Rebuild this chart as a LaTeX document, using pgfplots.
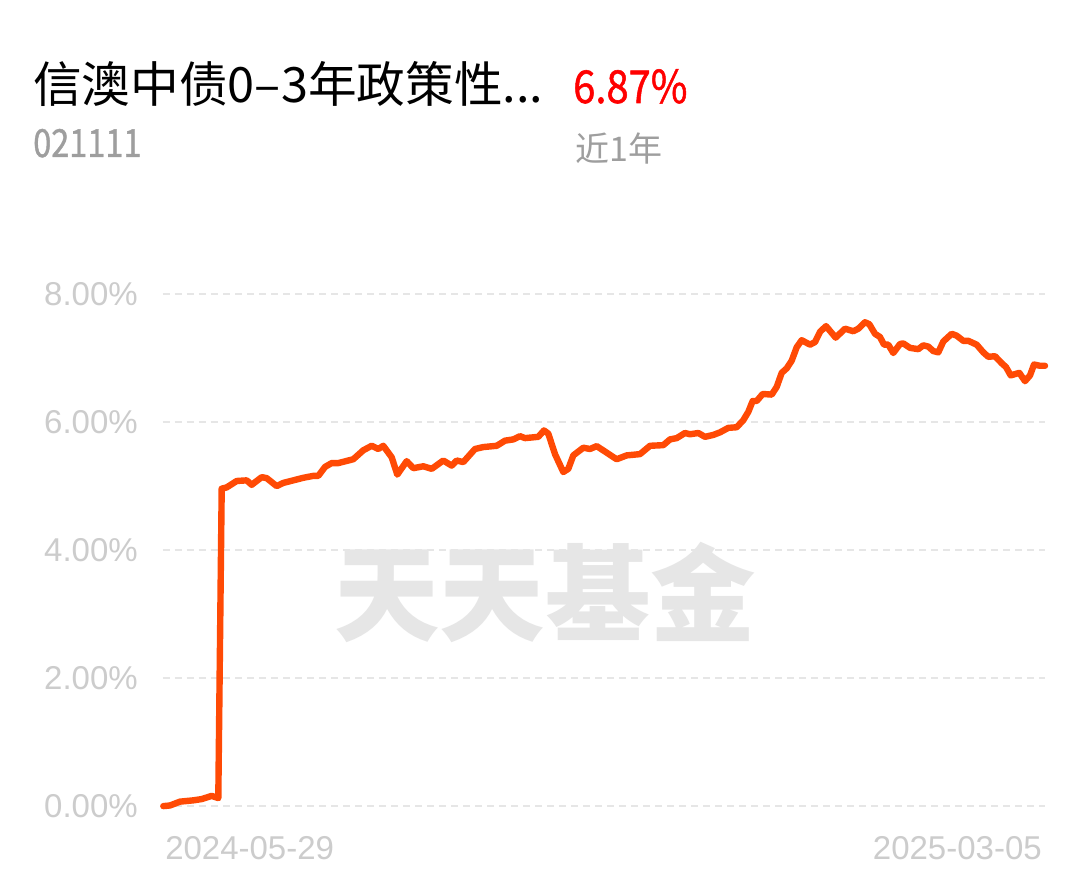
\documentclass[border=0pt]{standalone}
\usepackage{pgfplots}
\pgfplotsset{compat=1.18}
\usepackage{fontspec}
\setmainfont{Liberation Sans}
\newfontfamily\cjk{Noto Sans CJK SC}
\newfontfamily\cjkfb{Noto Sans CJK SC}[FakeBold=1.2]
\definecolor{lineC}{HTML}{FF4A05}
\definecolor{gridC}{HTML}{E6E6E6}
\definecolor{tickC}{HTML}{CCCCCC}
\definecolor{subC}{HTML}{9E9E9E}
\definecolor{wmC}{HTML}{E6E6E6}
\begin{document}
\begin{tikzpicture}[x=0.75pt,y=0.75pt]
\path[use as bounding box, fill=white] (0,0) rectangle (1089,881);
\node[anchor=base west, inner sep=0pt, font=\cjk\fontsize{36.5}{36.5}\selectfont] at (33,778) {信澳中债0–3年政策性...};
\node[anchor=base west, inner sep=0pt, text=red, font=\cjkfb\fontsize{34}{34}\selectfont] at (573,778) {\scalebox{0.88}[1]{6.87\%}};
\node[anchor=base west, inner sep=0pt, text=subC, font=\cjkfb\fontsize{29}{29}\selectfont] at (33,724) {\scalebox{0.84}[1]{021111}};
\node[anchor=base west, inner sep=0pt, text=subC, font=\cjk\fontsize{25.5}{25.5}\selectfont] at (575,719) {近1年};
\begin{axis}[
  at={(163,117)}, anchor=south west,
  scale only axis, width=661.5pt, height=384pt,
  xmin=163, xmax=1045, ymin=0, ymax=8,
  clip=false,
  axis line style={draw=none},
  major tick length=0pt,
  xtick=\empty,
  ytick={0,2,4,6,8},
  yticklabels={0.00\%,2.00\%,4.00\%,6.00\%,8.00\%},
  yticklabel style={anchor=east, inner sep=0pt, xshift=-18.75pt, text=tickC, font=\fontsize{24.75}{24.75}\selectfont},
  ymajorgrids,
  grid style={gridC, line width=1.5pt, dash pattern=on 5.25pt off 3.75pt},
]
\node[text=wmC, font=\cjk\bfseries\fontsize{79}{79}\selectfont, inner sep=0pt] at (axis cs:545,3.34) {天天基金};
\addplot[lineC, line width=4.8pt, line join=round, line cap=round] table {
x y
163.3 0.00
170 0.01
180 0.07
193.3 0.09
201.7 0.11
211.7 0.16
218.3 0.125
221.7 4.96
226.7 4.98
236.7 5.08
246.7 5.09
251.7 5.02
261.7 5.14
266.7 5.125
276.7 5.00
283.3 5.05
293.3 5.09
303.3 5.13
313.3 5.16
318.3 5.16
325 5.30
331.7 5.36
338.3 5.36
353.3 5.42
363.3 5.56
371.7 5.63
378.3 5.58
383.3 5.63
391.7 5.45
397.3 5.18
406.7 5.39
413.3 5.28
423.3 5.31
431.7 5.27
443.3 5.40
451.7 5.32
456.7 5.40
463.3 5.375
475 5.58
483.3 5.61
496.7 5.63
505 5.71
513.3 5.73
520 5.78
525 5.75
538.3 5.77
544 5.87
548.3 5.82
555 5.50
563.3 5.22
568.3 5.27
573.3 5.48
583.3 5.60
590 5.58
596.7 5.625
605 5.54
611.7 5.47
616.7 5.42
626.7 5.48
640 5.50
650 5.63
663.3 5.64
670 5.73
676.7 5.75
685 5.83
690 5.81
698.3 5.83
705 5.77
713.3 5.80
720 5.84
728.3 5.91
736.7 5.92
743.3 6.03
748.3 6.16
752.7 6.33
756.7 6.33
762.7 6.44
771.7 6.43
776.7 6.55
781.7 6.77
786.7 6.84
791.7 6.96
796.7 7.17
801.7 7.28
810 7.21
815 7.25
820 7.41
826 7.50
835.7 7.32
845 7.46
853.3 7.42
858.3 7.46
865 7.56
869.3 7.53
875 7.38
880 7.33
884 7.21
888.3 7.21
893.3 7.08
900 7.22
903.3 7.23
910 7.16
918.3 7.14
923.3 7.20
928.3 7.18
933.3 7.11
938.3 7.09
943.3 7.26
951.7 7.38
956.7 7.35
963.3 7.27
968.3 7.27
976.7 7.21
983.3 7.09
988.3 7.02
995 7.03
1001.7 6.92
1006 6.86
1010.7 6.73
1019.3 6.77
1025 6.64
1030 6.73
1034 6.90
1040 6.88
1045 6.88
};
\end{axis}
\node[anchor=base west, inner sep=0pt, text=tickC, font=\fontsize{24.75}{24.75}\selectfont] at (165,21) {2024-05-29};
\node[anchor=base east, inner sep=0pt, text=tickC, font=\fontsize{24.75}{24.75}\selectfont] at (1042,21) {2025-03-05};
\end{tikzpicture}
\end{document}
